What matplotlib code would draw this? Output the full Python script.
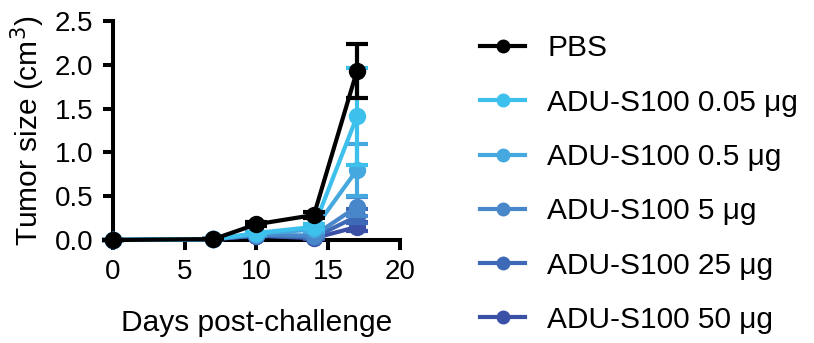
import matplotlib.pyplot as plt

plt.rcParams["font.family"] = ["Liberation Sans", "DejaVu Sans"]

days = [0, 7, 10, 14, 17]
groups = ["PBS", "ADU-S100 0.05 \u03bcg", "ADU-S100 0.5 \u03bcg", "ADU-S100 5 \u03bcg",
          "ADU-S100 25 \u03bcg", "ADU-S100 50 \u03bcg"]
colors = ["#000000", "#3ec0ec", "#45a8df", "#4887c9", "#3e69b6", "#3a50a6"]

pbs = [0.0, 0.01, 0.18, 0.285, 1.93]
dose_005 = [0.0, 0.01, 0.08, 0.15, 1.41]
dose_05 = [0.0, 0.01, 0.07, 0.12, 0.80]
dose_5 = [0.0, 0.01, 0.06, 0.05, 0.38]
dose_25 = [0.0, 0.01, 0.05, 0.03, 0.27]
dose_50 = [0.0, 0.01, 0.05, 0.02, 0.15]

pbs_err = [0.0, 0.0, 0.02, 0.03, 0.31]
dose_005_err = [0.0, 0.0, 0.01, 0.03, 0.55]
dose_05_err = [0.0, 0.0, 0.01, 0.03, 0.30]
dose_5_err = [0.0, 0.0, 0.01, 0.01, 0.11]
dose_25_err = [0.0, 0.0, 0.01, 0.01, 0.08]
dose_50_err = [0.0, 0.0, 0.01, 0.01, 0.05]

series = [pbs, dose_005, dose_05, dose_5, dose_25, dose_50]
errors = [pbs_err, dose_005_err, dose_05_err, dose_5_err, dose_25_err, dose_50_err]

fig = plt.figure(figsize=(8.14, 3.43), dpi=100)
ax = fig.add_axes([0.1388, 0.3003, 0.3526, 0.6385])

for i in range(len(series) - 1, -1, -1):
    ax.errorbar(days, series[i], yerr=errors[i], color=colors[i], lw=3,
                marker="o", ms=11.5, capsize=8, capthick=3, elinewidth=3,
                zorder=10 - i, clip_on=False)

ax.set_xlim(0, 20)
ax.set_ylim(0, 2.5)
ax.set_xticks([0, 5, 10, 15, 20])
ax.set_yticks([0, 0.5, 1.0, 1.5, 2.0, 2.5])
ax.set_yticklabels(["0.0", "0.5", "1.0", "1.5", "2.0", "2.5"])
for side in ["top", "right"]:
    ax.spines[side].set_visible(False)
for side in ["left", "bottom"]:
    ax.spines[side].set_linewidth(2.9)
ax.tick_params(width=2.9, length=7, labelsize=20, direction="out", pad=7)
ax.set_xlabel("Days post-challenge", fontsize=21.5, labelpad=17)
ax.set_ylabel("Tumor size (cm$^3$)", fontsize=21.5, labelpad=6)

legend_handles = [plt.Line2D([], [], color=c, lw=3, marker="o", ms=9) for c in colors]
fig.legend(legend_handles, groups, loc="upper left", bbox_to_anchor=(0.557, 0.978),
           frameon=False, fontsize=21.5, handlelength=1.5, handletextpad=0.75,
           labelspacing=0.88)

fig.savefig("out.png", dpi=100)
